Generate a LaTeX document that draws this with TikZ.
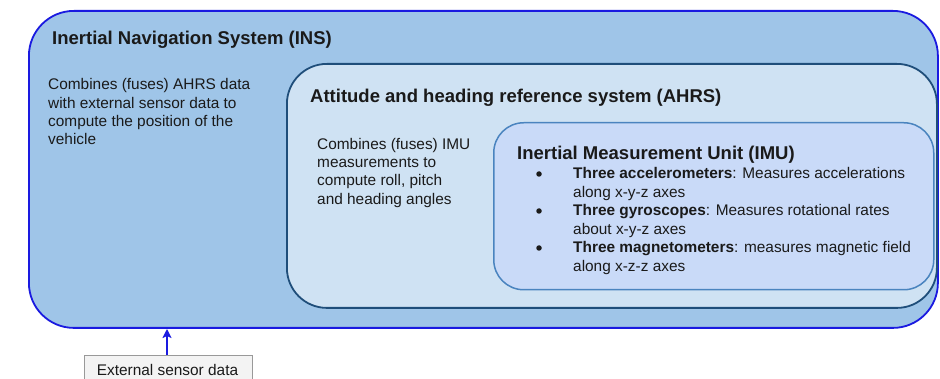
\documentclass[tikz,border=0pt]{standalone}
\usepackage{fontspec}
\setmainfont{Liberation Sans}
\usetikzlibrary{arrows.meta}
\definecolor{insfill}{HTML}{9FC5E8}
\definecolor{insdraw}{HTML}{1A1AE0}
\definecolor{ahrsfill}{HTML}{CFE2F3}
\definecolor{ahrsdraw}{HTML}{1F4E7A}
\definecolor{imufill}{HTML}{C9DAF8}
\definecolor{imudraw}{HTML}{4A84BF}
\definecolor{extfill}{HTML}{F3F3F3}
\definecolor{extdraw}{HTML}{999999}
\definecolor{txt}{HTML}{1A1A1A}
\newcommand{\mlines}[1]{\begin{tabular}[t]{@{}l@{}}#1\end{tabular}}
\begin{document}
\begin{tikzpicture}[x=1pt,y=-1pt,
  box/.style={rectangle,anchor=north west,inner sep=0pt,line width=1.8pt},
  title/.style={anchor=base west,inner sep=0pt,font=\fontsize{18.5}{22}\selectfont\bfseries,text=txt},
  body/.style={anchor=base west,inner sep=0pt,font=\fontsize{15.4}{18.3}\selectfont,text=txt},
  bul/.style={circle,fill=txt,inner sep=0pt,minimum size=5.5pt}]
\useasboundingbox (0,0) rectangle (940,379);
\clip (0,0) rectangle (940,379);
\fill[white] (0,0) rectangle (940,379);
\node[box,fill=insfill,draw=insdraw,rounded corners=45pt,minimum width=909pt,minimum height=317pt] (ins) at (28,10) {};
\node[box,fill=ahrsfill,draw=ahrsdraw,rounded corners=40pt,minimum width=650pt,minimum height=244pt] (ahrs) at (286,63) {};
\node[box,fill=imufill,draw=imudraw,rounded corners=30pt,line width=1.5pt,minimum width=440pt,minimum height=167pt] (imu) at (493,122) {};
\node[title] (institle) at (52,44.5) {Inertial Navigation System (INS)};
\node[body] (insbody) at (48,90) {\mlines{Combines (fuses) AHRS data\\with external sensor data to\\compute the position of the\\vehicle}};
\node[title] (ahrstitle) at (310,102.7) {Attitude and heading reference system (AHRS)};
\node[body] (ahrsbody) at (317,149.3) {\mlines{Combines (fuses) IMU\\measurements to\\compute roll, pitch\\and heading angles}};
\node[title] (imutitle) at (517,160) {Inertial Measurement Unit (IMU)};
\node[bul] (b1) at (539,174) {};
\node[bul] (b2) at (539,211) {};
\node[bul] (b3) at (539,248) {};
\node[body] (t1) at (573,179) {\mlines{\textbf{Three accelerometers}: Measures accelerations\\along x-y-z axes}};
\node[body] (t2) at (573,216) {\mlines{\textbf{Three gyroscopes}: Measures rotational rates\\about x-y-z axes}};
\node[body] (t3) at (573,253) {\mlines{\textbf{Three magnetometers}: measures magnetic field\\along x-z-z axes}};
\node[rectangle,anchor=north west,fill=extfill,draw=extdraw,line width=0.8pt,minimum width=168pt,minimum height=32pt,inner sep=0pt] (ext) at (84,355) {};
\node[body,anchor=base] (exttext) at (167.5,375) {External sensor data};
\coordinate (arrtop) at (167,329);
\draw[insdraw,line width=1.8pt,-{Stealth[length=9pt,width=9pt,inset=2pt]}] (ext.north -| arrtop) -- (arrtop);
\end{tikzpicture}
\end{document}
